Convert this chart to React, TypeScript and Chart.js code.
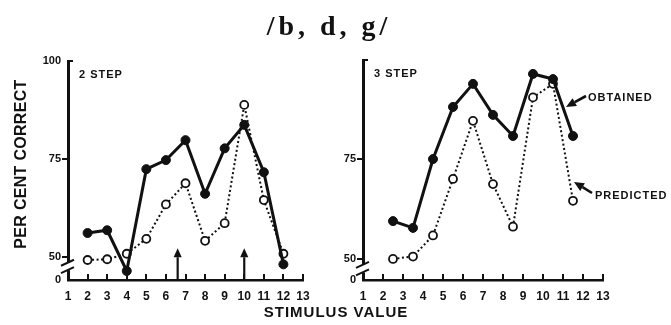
import { useEffect, useRef } from 'react';
import { Chart, registerables } from 'chart.js';

Chart.register(...registerables);

// Stimulus axis and percent-correct axis
const stimulusValues = [1, 2, 3, 4, 5, 6, 7, 8, 9, 10, 11, 12, 13];
const percentTicks = [50, 75, 100];

// 2-step series
const twoStepX = [2, 3, 4, 5, 6, 7, 8, 9, 10, 11, 12];
const twoStepObtained = [56.1, 56.8, 46.4, 72.4, 74.7, 79.8, 66.1, 77.7, 83.7, 71.6, 48.1];
const twoStepPredicted = [49.2, 49.4, 50.8, 54.6, 63.4, 68.8, 54.1, 58.6, 88.8, 64.5, 50.8];
const twoStepBoundaries = [6.6, 10];

// 3-step series
const threeStepX = [2.5, 3.5, 4.5, 5.5, 6.5, 7.5, 8.5, 9.5, 10.5, 11.5];
const threeStepObtained = [59.5, 57.8, 75.1, 88.2, 94.0, 86.2, 80.9, 96.5, 95.2, 80.9];
const threeStepPredicted = [50.0, 50.6, 55.9, 70.1, 84.7, 68.8, 58.1, 90.6, 94.0, 64.6];

const INK = '#111';
const SANS = '"Liberation Sans", Arial, sans-serif';
const yTickFont = { family: SANS, size: 11, weight: 'bold' as const };
const xTickFont = { family: SANS, size: 12, weight: 'bold' as const };

type Pt = [number, number];

function drawArrow(ctx: CanvasRenderingContext2D, from: Pt, to: Pt, width: number, head: number) {
  const ang = Math.atan2(to[1] - from[1], to[0] - from[0]);
  const bx = to[0] - Math.cos(ang) * head;
  const by = to[1] - Math.sin(ang) * head;
  ctx.save();
  ctx.strokeStyle = INK;
  ctx.fillStyle = INK;
  ctx.lineWidth = width;
  ctx.beginPath();
  ctx.moveTo(from[0], from[1]);
  ctx.lineTo(bx, by);
  ctx.stroke();
  const hw = head * 0.45;
  ctx.beginPath();
  ctx.moveTo(to[0], to[1]);
  ctx.lineTo(bx + Math.sin(ang) * hw, by - Math.cos(ang) * hw);
  ctx.lineTo(bx - Math.sin(ang) * hw, by + Math.cos(ang) * hw);
  ctx.closePath();
  ctx.fill();
  ctx.restore();
}

// Axis furniture for one panel: inward x ticks, top cap, broken y axis, panel label, notes
const panelDecor = {
  id: 'panelDecor',
  afterDraw(chart: any, _args: any, opts: any) {
    const { ctx, chartArea } = chart;
    const xs = chart.scales.x;
    const ys = chart.scales.y;
    const left = chartArea.left;
    const bottom = chartArea.bottom;
    ctx.save();
    ctx.strokeStyle = INK;
    ctx.fillStyle = INK;

    // inward tick marks along the stimulus axis
    ctx.lineWidth = 2;
    for (const v of stimulusValues.slice(1)) {
      const px = Math.round(xs.getPixelForValue(v));
      ctx.beginPath();
      ctx.moveTo(px, bottom);
      ctx.lineTo(px, bottom - 6);
      ctx.stroke();
    }

    // cap at the top of the percent axis
    const topPx = ys.getPixelForValue(100);
    ctx.lineWidth = 2;
    ctx.beginPath();
    ctx.moveTo(left - 1, topPx);
    ctx.lineTo(left + 5, topPx);
    ctx.stroke();

    // axis break between 50 and 0
    const gTop = ys.getPixelForValue(48.5);
    const gBot = ys.getPixelForValue(46.6);
    ctx.fillStyle = '#fff';
    ctx.fillRect(left - 3, gTop, 6, gBot - gTop);
    ctx.fillStyle = INK;
    ctx.lineWidth = 2;
    for (const y of [gTop, gBot]) {
      ctx.beginPath();
      ctx.moveTo(left - 7, y + 3);
      ctx.lineTo(left + 6, y - 3);
      ctx.stroke();
    }

    // panel label
    ctx.font = `bold 11px ${SANS}`;
    (ctx as any).letterSpacing = '1px';
    ctx.textBaseline = 'middle';
    ctx.textAlign = 'left';
    ctx.fillText(opts.label, left + 11, ys.getPixelForValue(96.5));

    // category boundary arrows
    for (const v of opts.boundaries || []) {
      const px = xs.getPixelForValue(v);
      drawArrow(ctx, [px, bottom], [px, ys.getPixelForValue(52.2)], 2.2, 9);
    }

    // curve notes
    for (const n of opts.notes || []) {
      ctx.font = `bold 11px ${SANS}`;
      (ctx as any).letterSpacing = '1px';
      ctx.fillText(n.text, n.at[0], n.at[1]);
      drawArrow(ctx, n.from, n.to, 2.6, 10);
    }
    (ctx as any).letterSpacing = '0px';
    ctx.restore();
  },
};

// Figure-wide text: title and shared axis titles
const figureText = {
  id: 'figureText',
  afterDraw(chart: any) {
    const { ctx } = chart;
    ctx.save();
    ctx.fillStyle = INK;
    ctx.textAlign = 'center';
    ctx.textBaseline = 'alphabetic';
    ctx.font = `bold 28px "Liberation Serif", "DejaVu Serif", serif`;
    (ctx as any).letterSpacing = '4px';
    ctx.fillText('/b, d, g/', 329, 35);

    ctx.font = `bold 15px ${SANS}`;
    (ctx as any).letterSpacing = '1px';
    ctx.textBaseline = 'middle';
    ctx.fillText('STIMULUS VALUE', 336, 313);

    ctx.translate(22, 164);
    ctx.rotate(-Math.PI / 2);
    (ctx as any).letterSpacing = '0.3px';
    ctx.font = `bold 16px ${SANS}`;
    ctx.fillText('PER CENT CORRECT', 0, 0);
    (ctx as any).letterSpacing = '0px';
    ctx.restore();
  },
};

interface PanelSpec {
  x: number[];
  obtained: number[];
  predicted: number[];
  floor: number;
  showTop: boolean;
  padding: { left: number; right: number; top: number; bottom: number };
  decor: any;
  extra: any[];
}

function makeConfig(p: PanelSpec): any {
  const series = (vals: number[]) => p.x.map((x, i) => ({ x, y: vals[i] }));
  return {
    type: 'line',
    data: {
      datasets: [
        {
          label: 'Obtained',
          data: series(p.obtained),
          borderColor: INK,
          borderWidth: 3,
          pointRadius: 4.5,
          pointBackgroundColor: INK,
          pointBorderColor: INK,
          pointBorderWidth: 1,
          tension: 0,
        },
        {
          label: 'Predicted',
          data: series(p.predicted),
          borderColor: INK,
          borderWidth: 2,
          borderDash: [2, 2.5],
          pointRadius: 4,
          pointBackgroundColor: '#fff',
          pointBorderColor: INK,
          pointBorderWidth: 1.8,
          tension: 0,
        },
      ],
    },
    options: {
      responsive: false,
      animation: false,
      events: [],
      layout: { padding: p.padding },
      plugins: {
        legend: { display: false },
        tooltip: { enabled: false },
        title: { display: false },
        panelDecor: p.decor,
      },
      scales: {
        x: {
          type: 'linear',
          min: 1,
          max: 13,
          afterBuildTicks: (s: any) => {
            s.ticks = stimulusValues.map((v) => ({ value: v }));
          },
          afterFit: (s: any) => {
            s.height = 22;
          },
          ticks: {
            color: INK,
            font: xTickFont,
            padding: 9,
            autoSkip: false,
            maxRotation: 0,
            callback: (v: any) => String(v),
          },
          grid: { display: false, drawTicks: false, tickLength: 0 },
          border: { display: true, color: INK, width: 2.5 },
        },
        y: {
          type: 'linear',
          min: p.floor,
          max: 100,
          afterBuildTicks: (s: any) => {
            s.ticks = [p.floor, ...percentTicks].map((v) => ({ value: v }));
          },
          afterFit: (s: any) => {
            s.width = 40;
          },
          ticks: {
            color: INK,
            font: yTickFont,
            padding: 1,
            autoSkip: false,
            callback: (v: any) => (v < 50 ? '0' : v === 100 && !p.showTop ? '' : String(v)),
          },
          grid: {
            drawOnChartArea: false,
            tickLength: 6,
            lineWidth: 2,
            color: (c: any) =>
              c.tick && (c.tick.value === 50 || c.tick.value === 75) ? INK : 'rgba(0,0,0,0)',
          },
          border: { display: true, color: INK, width: 3 },
        },
      },
    },
    plugins: [panelDecor, ...p.extra],
  };
}

export default function App() {
  const leftRef = useRef<HTMLCanvasElement>(null);
  const rightRef = useRef<HTMLCanvasElement>(null);

  useEffect(() => {
    const left = new Chart(
      leftRef.current!,
      makeConfig({
        x: twoStepX,
        obtained: twoStepObtained,
        predicted: twoStepPredicted,
        floor: 44.1,
        showTop: true,
        padding: { left: 28, right: 368, top: 61, bottom: 23 },
        decor: { label: '2 STEP', boundaries: twoStepBoundaries, notes: [] },
        extra: [figureText],
      })
    );
    const right = new Chart(
      rightRef.current!,
      makeConfig({
        x: threeStepX,
        obtained: threeStepObtained,
        predicted: threeStepPredicted,
        floor: 44.7,
        showTop: false,
        padding: { left: 323, right: 68, top: 60, bottom: 23 },
        decor: {
          label: '3 STEP',
          boundaries: [],
          notes: [
            { text: 'OBTAINED', at: [588, 98], from: [586, 96], to: [566, 107] },
            { text: 'PREDICTED', at: [595, 196], from: [592, 193], to: [574, 182] },
          ],
        },
        extra: [],
      })
    );
    return () => {
      left.destroy();
      right.destroy();
    };
  }, []);

  const canvasStyle = { position: 'absolute' as const, left: 0, top: 0 };
  return (
    <div style={{ position: 'absolute', left: 0, top: 0, width: 671, height: 325, background: '#fff' }}>
      <canvas ref={leftRef} width={671} height={325} style={canvasStyle} />
      <canvas ref={rightRef} width={671} height={325} style={canvasStyle} />
    </div>
  );
}
